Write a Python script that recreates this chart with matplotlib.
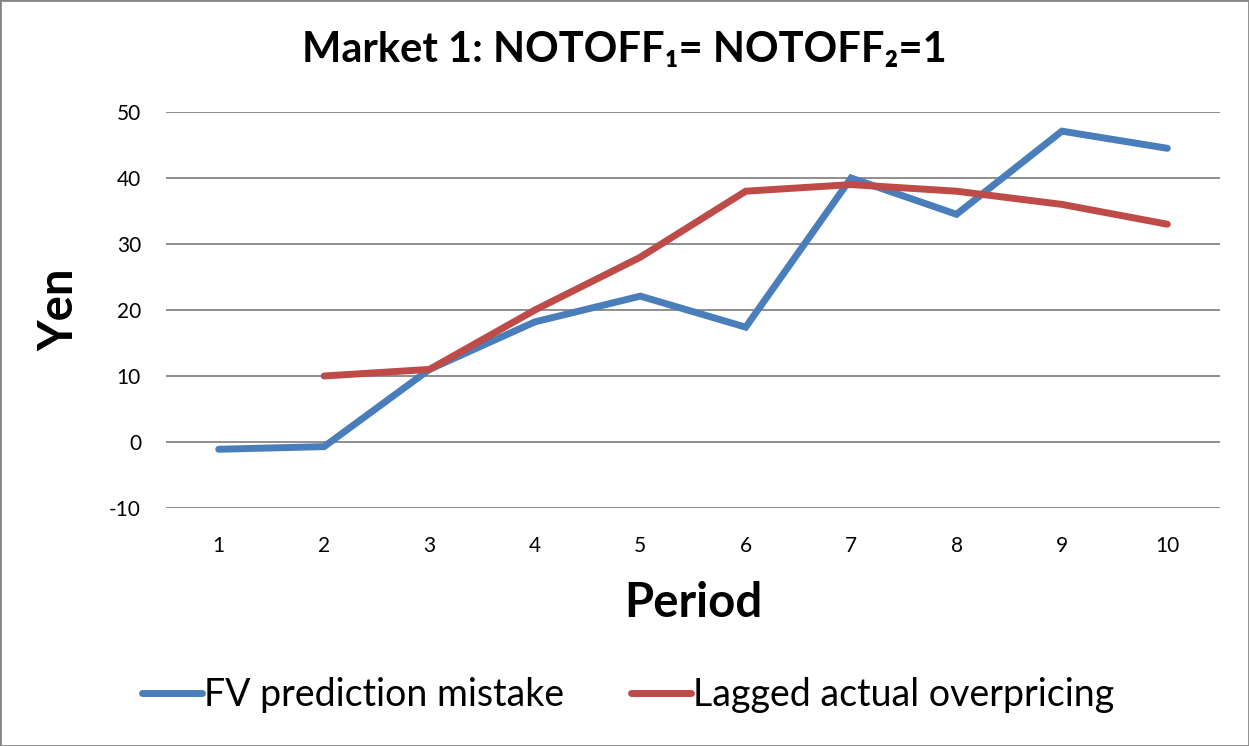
import matplotlib.pyplot as plt
from matplotlib.patches import Rectangle

periods = [1, 2, 3, 4, 5, 6, 7, 8, 9, 10]
fv_mistake = [-1.1, -0.7, 11, 18.2, 22.1, 17.4, 40, 34.5, 47.1, 44.5]
lag_periods = [2, 3, 4, 5, 6, 7, 8, 9, 10]
lag_overpricing = [10, 11, 20, 28, 38, 39, 38, 36, 33]

plt.rcParams['font.family'] = ['Lato', 'DejaVu Sans']
plt.rcParams['axes.unicode_minus'] = False

fig = plt.figure(figsize=(12.49, 7.46), dpi=100)
ax = fig.add_axes([166 / 1249, 1 - 508 / 746, (1220 - 166) / 1249, (508 - 112) / 746])

ax.plot(periods, fv_mistake, color='#4A7EBB', lw=5, solid_capstyle='round',
        solid_joinstyle='miter', label='FV prediction mistake')
ax.plot(lag_periods, lag_overpricing, color='#BE4B48', lw=5, solid_capstyle='round',
        solid_joinstyle='miter', label='Lagged actual overpricing')

ax.set_xlim(0.5, 10.5)
ax.set_ylim(-10, 50)
ax.set_xticks(periods)
ax.set_yticks(range(-10, 51, 10))
ax.yaxis.grid(True, color='#868686', lw=1.3)
ax.set_axisbelow(True)
for s in ax.spines.values():
    s.set_visible(False)
ax.tick_params(length=0, labelsize=15, pad=20)
ax.tick_params(axis='y', pad=18)

ax.set_xlabel('Period', fontsize=34, fontweight='bold', labelpad=18)
ax.set_ylabel('Yen', fontsize=34, fontweight='bold', labelpad=20)

fig.text(0.5, 1 - 50 / 746, 'Market 1: NOTOFF\u2081= NOTOFF\u2082=1', ha='center', va='center',
         fontsize=30, fontweight='bold')

fig.legend(loc='center', bbox_to_anchor=(0.503, 1 - 695 / 746), ncol=2, frameon=False,
           fontsize=27, handlelength=1.6, handletextpad=0.05, columnspacing=1.8)

fig.patches.append(Rectangle((0, 0), 1, 1, transform=fig.transFigure, fill=False,
                             edgecolor='#868686', lw=2))

fig.savefig('out.png', dpi=100)
